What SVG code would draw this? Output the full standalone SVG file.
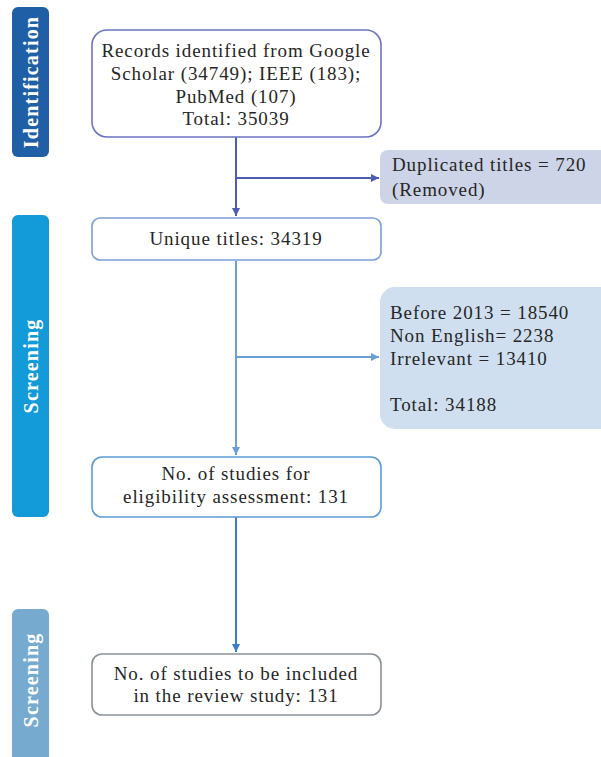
<svg xmlns="http://www.w3.org/2000/svg" width="601" height="757" viewBox="0 0 601 757">
<style>
  .t { font-family: "Liberation Serif", "Times New Roman", serif; font-size: 19px; fill: #262626; letter-spacing: 0.9px; }
  .c { text-anchor: middle; }
  .side { font-family: "Liberation Serif", "Times New Roman", serif; font-size: 20px; font-weight: bold; fill: #ffffff; text-anchor: middle; dominant-baseline: central; letter-spacing: 1.2px; }
  .box { fill: #ffffff; stroke-width: 1.6; }
  .ln { fill: none; stroke-width: 2; }
</style>
<defs>
  <marker id="a1" viewBox="0 0 10 10" refX="10" refY="5" markerWidth="4" markerHeight="4" orient="auto">
    <path d="M0,0 L10,5 L0,10 z" fill="#4a5cb4"/>
  </marker>
  <marker id="a2" viewBox="0 0 10 10" refX="10" refY="5" markerWidth="4" markerHeight="4" orient="auto">
    <path d="M0,0 L10,5 L0,10 z" fill="#6a9fd8"/>
  </marker>
  <marker id="a3" viewBox="0 0 10 10" refX="10" refY="5" markerWidth="4" markerHeight="4" orient="auto">
    <path d="M0,0 L10,5 L0,10 z" fill="#3a7cc8"/>
  </marker>
</defs>
<rect width="601" height="757" fill="#ffffff"/>

<g id="phase-identification">
  <rect x="12" y="7" width="37" height="150" rx="6" fill="#1f5fa6"/>
  <text class="side" transform="translate(30.5,82) rotate(-90)">Identification</text>
</g>
<g id="phase-screening-1">
  <rect x="12" y="215" width="37" height="302" rx="6" fill="#139ad8"/>
  <text class="side" transform="translate(30.5,366) rotate(-90)">Screening</text>
</g>
<g id="phase-screening-2">
  <rect x="12" y="609" width="37" height="155" rx="6" fill="#76aace"/>
  <text class="side" transform="translate(30.5,680) rotate(-90)">Screening</text>
</g>

<g id="connectors">
  <line class="ln" x1="236" y1="137" x2="236" y2="216" stroke="#4a5cb4" marker-end="url(#a1)"/>
  <line class="ln" x1="236" y1="178" x2="379" y2="178" stroke="#4a5cb4" marker-end="url(#a1)"/>
  <line class="ln" x1="236" y1="261" x2="236" y2="455" stroke="#6a9fd8" marker-end="url(#a2)"/>
  <line class="ln" x1="236" y1="357" x2="379" y2="357" stroke="#6a9fd8" marker-end="url(#a2)"/>
  <line class="ln" x1="236" y1="517" x2="236" y2="652" stroke="#3a7cc8" marker-end="url(#a3)"/>
</g>

<g id="records">
  <rect class="box" x="92" y="30" width="289" height="107" rx="15" stroke="#6b73c2"/>
  <text class="t c" x="236" y="57">Records identified from Google</text>
  <text class="t c" x="236" y="80">Scholar (34749); IEEE (183);</text>
  <text class="t c" x="236" y="103">PubMed (107)</text>
  <text class="t c" x="236" y="125">Total: 35039</text>
</g>

<g id="duplicated">
  <rect x="380" y="150" width="230" height="54" rx="8" fill="#cdd4e8"/>
  <text class="t" x="392" y="171">Duplicated titles = 720</text>
  <text class="t" x="392" y="196">(Removed)</text>
</g>

<g id="unique">
  <rect class="box" x="92" y="218" width="289" height="42" rx="8" stroke="#7b9fd6"/>
  <text class="t c" x="236" y="245">Unique titles: 34319</text>
</g>

<g id="excluded">
  <rect x="380" y="287" width="235" height="142" rx="15" fill="#cfdff0"/>
  <text class="t" x="390" y="319">Before 2013 = 18540</text>
  <text class="t" x="390" y="342">Non English= 2238</text>
  <text class="t" x="390" y="365">Irrelevant = 13410</text>
  <text class="t" x="390" y="411">Total: 34188</text>
</g>

<g id="eligibility">
  <rect class="box" x="92" y="457" width="289" height="60" rx="10" stroke="#5b9bd5"/>
  <text class="t c" x="236" y="480">No. of studies for</text>
  <text class="t c" x="236" y="503">eligibility assessment: 131</text>
</g>

<g id="included">
  <rect class="box" x="92" y="654" width="289" height="61" rx="10" stroke="#8a9099"/>
  <text class="t c" x="236" y="680">No. of studies to be included</text>
  <text class="t c" x="236" y="702">in the review study: 131</text>
</g>
</svg>
